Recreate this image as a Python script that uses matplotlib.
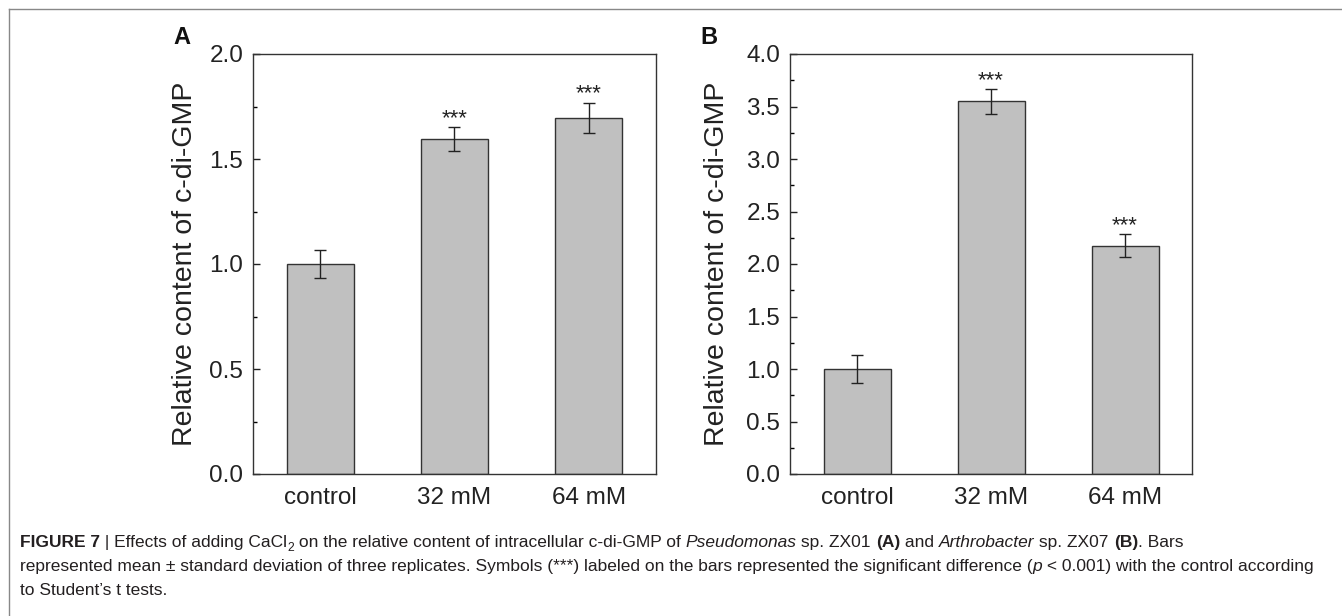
import matplotlib
matplotlib.use("Agg")
import matplotlib.pyplot as plt
from matplotlib.ticker import MultipleLocator, FormatStrFormatter
from matplotlib.lines import Line2D

categories = ["control", "32 mM", "64 mM"]
values_a = [1.0, 1.595, 1.696]
errors_a = [0.067, 0.057, 0.072]
values_b = [1.0, 3.548, 2.175]
errors_b = [0.133, 0.115, 0.108]
signif_a = ["", "***", "***"]
signif_b = ["", "***", "***"]
ylabel = "Relative content of c-di-GMP"

plt.rcParams['font.family'] = ['Liberation Sans', 'DejaVu Sans']

W, H = 1342, 616
fig = plt.figure(figsize=(W / 100, H / 100), dpi=100)

def px_axes(l, t, r, b):
    return fig.add_axes([l / W, 1 - b / H, (r - l) / W, (b - t) / H])

def draw_panel(ax, vals, errs, sig, ymax, major, minor, letter, lx, ly, labx):
    x = list(range(len(categories)))
    ax.bar(x, vals, width=0.5, color="#c0c0c0", edgecolor="#333333", linewidth=1.0, zorder=2)
    ax.errorbar(x, vals, yerr=errs, fmt="none", ecolor="#222222", elinewidth=1.0,
                capsize=4, capthick=1.0, zorder=3)
    for xi, v, e, s in zip(x, vals, errs, sig):
        if s:
            ax.text(xi, v + e + ymax * 0.008, s, ha="center", va="baseline", fontsize=16,
                    color="#222222")
    ax.set_xlim(-0.5, 2.5)
    ax.set_ylim(0, ymax)
    ax.yaxis.set_major_locator(MultipleLocator(major))
    ax.yaxis.set_minor_locator(MultipleLocator(minor))
    ax.yaxis.set_major_formatter(FormatStrFormatter("%.1f"))
    ax.set_xticks(x)
    ax.set_xticklabels(categories)
    ax.tick_params(axis="y", which="major", direction="in", length=5, width=1,
                   labelsize=17.5, pad=7, colors="#222222")
    ax.tick_params(axis="y", which="minor", direction="in", length=3, width=1)
    ax.tick_params(axis="x", which="major", length=0, labelsize=17.5, pad=9,
                   colors="#222222")
    for sp in ax.spines.values():
        sp.set_linewidth(1.0)
        sp.set_color("#333333")
    ax.set_ylabel(ylabel, fontsize=20.5, color="#222222")
    ax.yaxis.set_label_coords(labx, 0.5)
    fig.text(lx / W, 1 - ly / H, letter, fontsize=17, fontweight="bold",
             ha="left", va="center", color="#111111")

axA = px_axes(253, 54, 656, 474)
axB = px_axes(790, 54, 1192, 474)
draw_panel(axA, values_a, errors_a, signif_a, 2.0, 0.5, 0.25, "A", 173, 38, -0.136)
draw_panel(axB, values_b, errors_b, signif_b, 4.0, 0.5, 0.25, "B", 700, 38, -0.149)

# border lines (top and left)
fig.add_artist(Line2D([9 / W, 1.0], [1 - 9 / H, 1 - 9 / H], color="#888888", lw=1.0,
                      transform=fig.transFigure))
fig.add_artist(Line2D([9 / W, 9 / W], [1 - 9 / H, 0.0], color="#888888", lw=1.0,
                      transform=fig.transFigure))

# caption with mixed styles
fig.canvas.draw()
renderer = fig.canvas.get_renderer()
cap_font = ['Liberation Sans', 'DejaVu Sans']
cap_size = 12.5
cap_color = "#231f20"

def rich_line(x, y, runs):
    for txt, style in runs:
        kw = dict(fontsize=cap_size, family=cap_font, color=cap_color, va="baseline", ha="left")
        yy = y
        if style == "b":
            kw["fontweight"] = "bold"
        elif style == "i":
            kw["fontstyle"] = "italic"
        elif style == "sub":
            kw["fontsize"] = cap_size * 0.7
            yy = y + 4
        t = fig.text(x / W, 1 - yy / H, txt, **kw)
        x += t.get_window_extent(renderer).width
    return x

rich_line(20, 547, [("FIGURE 7", "b"), (" | Effects of adding CaCl", "r"), ("2", "sub"),
                    (" on the relative content of intracellular c-di-GMP of ", "r"),
                    ("Pseudomonas", "i"), (" sp. ZX01 ", "r"), ("(A)", "b"),
                    (" and ", "r"), ("Arthrobacter", "i"), (" sp. ZX07 ", "r"),
                    ("(B)", "b"), (". Bars", "r")])
rich_line(20, 571, [("represented mean \u00b1 standard deviation of three replicates. Symbols (***) labeled on the bars represented the significant difference (", "r"),
                    ("p", "i"), (" < 0.001) with the control according", "r")])
rich_line(20, 595, [("to Student\u2019s t tests.", "r")])

fig.savefig("out.png", dpi=100)
